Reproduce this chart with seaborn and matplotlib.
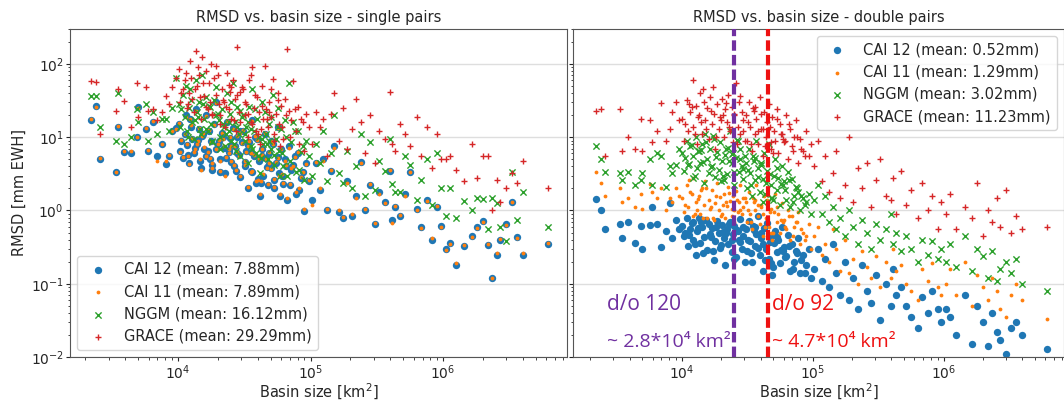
import matplotlib
matplotlib.use("Agg")
import matplotlib.pyplot as plt
import seaborn as sns

# basin sizes [km^2], shared by every series
basin_size = [
    2200, 2400, 2600, 3400, 3500, 3900, 4400, 4900, 5000, 5700, 5900, 6500, 7000, 7600, 8100, 8500, 9000, 9600,
    10100, 10400, 10900, 11200, 11600, 12100, 12300, 12800, 13100, 13600, 13900, 14300, 14900, 15100, 15700,
    16200, 16400, 17100, 17600, 17900, 18700, 19200, 19500, 20300, 20900, 21300, 22200, 22600, 23400, 24100,
    24500, 25300, 26200, 26700, 27600, 28100, 28900, 29500, 30200,
    31000, 31800, 32700, 33500, 34600, 35300, 36400, 37200, 38500, 39300, 40600, 41800, 42700, 44100, 45200,
    46300, 47800, 49000, 50500, 51900, 53400, 54800, 56600, 58100, 60200, 62300, 64500, 66800, 69100, 71500,
    74200, 77000, 80300, 84100, 88600, 93200, 97800,
    103000, 110000, 118000, 125000, 133000, 142000, 151000, 163000, 176000, 190000, 205000, 222000, 240000,
    258000, 280000, 305000, 330000, 365000, 395000, 410000, 430000, 470000, 520000, 560000, 640000, 680000,
    760000, 820000, 900000, 960000,
    1050000, 1120000, 1250000, 1450000, 1650000, 1800000, 2000000, 2200000, 2350000, 2550000, 2700000,
    3000000, 3300000, 3600000, 4000000, 6200000,
    10600, 11900, 12600, 13400, 14600, 15400, 16800, 18200, 19900, 21700, 23000, 25000, 26400, 27900, 29200,
    11400, 14100, 17300, 20600, 24300,
    32200, 34000, 36000, 38000, 40000, 43300, 46900, 50000, 53000, 57300, 61000, 65500, 70300, 76000, 82000,
    87000, 35800, 42000, 48500, 59000,
]

# RMSD [mm EWH] - single pairs
single_cai12 = [
    17, 27, 5.0, 3.3, 14, 6.2, 6.0, 10, 26, 13, 6.4, 16, 5.5, 8.0, 4.3, 5.5, 12, 13.5,
    15, 6.5, 5.2, 11, 7.8, 4.5, 18, 9.5, 6.0, 24, 8.2, 13, 3.8, 10.5, 7.0, 20, 5.5, 12, 8.8, 4.2,
    15, 6.8, 30, 9.0, 5.0, 11.5, 7.2, 3.2, 16, 6.2, 9.8, 4.6, 13.5, 7.5, 3.5, 10, 5.8, 2.9, 8.5,
    12, 4.0, 6.5, 2.0, 8.5, 3.5, 17, 5.5, 2.4, 9.5, 4.8, 1.6, 7.0, 3.0, 11, 5.2, 2.2, 6.0, 3.8, 8.2,
    2.6, 4.5, 14, 3.2, 6.8, 2.3, 5.0, 1.4, 7.5, 3.6, 4.2, 1.7, 6.0, 2.8, 0.98, 4.4, 2.5,
    1.4, 4.5, 1.9, 5.0, 1.0, 3.5, 7.5, 0.95, 0.8, 2.5, 0.85, 1.6, 4.6, 1.0, 2.2, 0.65, 1.8, 1.3,
    3.5, 0.75, 1.1, 0.85, 1.7, 3.4, 1.05, 0.6, 1.4, 0.4, 1.1, 0.62,
    0.3, 0.36, 0.18, 0.33, 0.45, 0.6, 0.72, 0.34, 0.12, 0.25, 0.4, 0.65, 1.3, 0.43, 0.25, 0.35,
    9.0, 5.8, 14, 7.2, 4.8, 11, 6.5, 3.6, 8.0, 10, 5.2, 7.8, 4.0, 6.0, 12, 20, 9.2, 5.0, 3.4, 6.6,
    4.6, 7.8, 3.3, 10, 2.7, 5.6, 3.9, 8.8, 2.0, 5.4, 3.0, 4.0, 2.2, 5.5, 1.9, 3.3, 6.2, 2.4, 4.3, 1.6,
]
single_cai11 = [
    17.5, 26, 5.2, 3.4, 14.2, 6.5, 6.4, 10, 25, 13.5, 6.6, 16.5, 4.8, 8.2, 4.8, 5.8, 12, 13,
    15.5, 6.3, 5.4, 11, 8.0, 4.3, 17.5, 9.8, 6.2, 23, 8.0, 13.5, 3.6, 10.5, 7.3, 19.5, 5.6, 12.5, 8.5, 4.4,
    14.5, 7.0, 29, 9.2, 4.8, 11.5, 7.5, 3.0, 16.5, 6.0, 10, 4.8, 13, 7.7, 3.6, 10.5, 5.6, 3.0, 8.3,
    12.5, 4.2, 6.3, 2.1, 8.8, 3.4, 16.5, 5.7, 2.5, 9.2, 5.0, 1.7, 6.8, 3.1, 11.5, 5.0, 2.3, 6.2, 3.7, 8.0,
    2.7, 4.6, 13.5, 3.0, 7.0, 2.4, 4.8, 1.5, 7.2, 3.8, 4.0, 1.8, 6.2, 2.9, 1.05, 4.3, 2.6,
    1.2, 4.6, 2.0, 4.8, 1.05, 3.6, 7.2, 1.0, 0.82, 2.4, 0.9, 1.5, 4.4, 1.05, 2.3, 0.68, 1.7, 1.25,
    3.6, 0.68, 1.15, 0.88, 1.6, 3.3, 1.0, 0.58, 1.35, 0.42, 1.15, 0.6,
    0.29, 0.35, 0.19, 0.34, 0.44, 0.58, 0.7, 0.35, 0.12, 0.26, 0.41, 0.63, 1.3, 0.42, 0.26, 0.36,
    9.2, 5.6, 14.5, 7.0, 5.0, 11.5, 6.3, 3.8, 8.2, 9.6, 5.4, 7.5, 4.2, 6.2, 11.5, 19, 9.0, 5.2, 3.5, 6.8,
    4.8, 7.6, 3.5, 10.5, 2.6, 5.8, 3.8, 9.0, 2.1, 5.2, 3.1, 4.2, 2.3, 5.3, 2.0, 3.4, 6.0, 2.5, 4.5, 1.7,
]
single_nggm = [
    36, 36, 14, 9.0, 40, 8.2, 10, 24, 16, 28, 9.0, 22, 11, 18, 18, 12, 25, 65,
    28, 14, 38, 19, 12, 25, 45, 16, 9.5, 60, 22, 30, 11, 70, 18, 35, 13, 27, 15, 8.5,
    32, 20, 48, 17, 10, 24, 14, 7.5, 40, 12, 21, 9.0, 55, 16, 6.5, 26, 11, 5.5, 19,
    20, 9.0, 14, 4.5, 26, 7.5, 45, 12, 6.0, 18, 10, 3.2, 30, 8.0, 22, 11, 5.0, 15, 7.0, 38,
    5.8, 9.5, 25, 6.5, 13, 4.0, 17, 3.0, 55, 8.5, 16, 3.4, 12, 6.2, 2.6, 9.0, 5.5,
    3.0, 8.0, 4.5, 12, 2.5, 6.0, 20, 3.2, 2.4, 6.5, 2.0, 4.0, 11, 1.6, 8.5, 1.9, 4.8, 3.5,
    9.5, 2.3, 1.8, 1.8, 5.5, 4.2, 1.4, 2.6, 5.0, 1.2, 6.0, 2.0,
    0.85, 2.0, 0.8, 1.35, 1.0, 1.5, 1.45, 0.55, 1.5, 1.25, 0.6, 0.38, 3.3, 0.75, 1.8, 0.6,
    24, 10, 32, 17, 13, 28, 12, 9.0, 21, 15, 11, 30, 8.0, 14, 23, 50, 19, 26, 7.0, 16,
    11, 16, 7.0, 24, 5.5, 9.5, 8.0, 19, 4.2, 14, 6.0, 10, 4.8, 12, 3.6, 7.5, 13, 5.2, 9.0, 3.0,
]
single_grace = [
    58, 56, 11, 23, 45, 31, 14, 55, 19, 48, 23, 24, 17, 22, 36, 28, 48, 65,
    85, 30, 45, 60, 25, 40, 110, 33, 22, 150, 50, 70, 18, 125, 36, 80, 26, 55, 100, 20,
    65, 38, 95, 28, 15, 45, 30, 14, 75, 24, 42, 18, 60, 33, 12, 170, 22, 16, 48,
    45, 20, 28, 10, 60, 16, 90, 25, 12, 35, 22, 8.0, 50, 18, 95, 24, 14, 30, 19, 62,
    11, 21, 40, 15, 27, 9.5, 33, 160, 23, 17, 58, 12, 26, 18, 6.5, 21, 14,
    8.0, 22, 14, 18, 5.5, 21, 40, 9.0, 25, 7.0, 13, 33, 16, 6.0, 20, 4.5, 12, 9.5,
    42, 8.0, 6.5, 15, 11, 7.5, 19, 5.5, 14, 3.8, 11, 5.0,
    5.0, 5.5, 3.6, 2.5, 8.0, 2.8, 5.5, 5.5, 1.0, 2.6, 1.3, 2.0, 3.2, 2.4, 4.8, 2.0,
    40, 28, 65, 45, 35, 55, 24, 21, 70, 32, 26, 48, 17, 38, 42, 75, 90, 30, 20, 52,
    30, 21, 15, 38, 11, 27, 18, 45, 9.0, 32, 14, 20, 10, 24, 8.0, 16, 70, 13, 22, 7.5,
]

# RMSD [mm EWH] - double pairs
double_cai12 = [
    1.45, 1.0, 0.55, 0.65, 0.42, 0.70, 0.36, 0.62, 0.30, 0.63, 1.1, 0.66, 0.32, 0.52, 1.25, 0.42, 0.75, 0.55,
    0.62, 0.45, 0.78, 0.33, 0.55, 0.40, 0.70, 0.25, 0.52, 0.80, 0.36, 0.60, 0.44, 0.75, 0.29, 0.66, 0.48,
    0.58, 0.21, 0.38, 0.72, 0.50, 0.31, 0.64, 0.42, 0.18, 0.56, 0.35, 0.70, 0.27, 0.47, 0.62, 0.23, 0.53,
    0.40, 0.76, 0.30, 0.45, 0.20,
    0.55, 0.28, 0.72, 0.38, 0.20, 0.62, 0.33, 0.48, 0.85, 0.25, 0.42, 0.15, 0.58, 0.30, 0.68, 0.22, 0.45,
    0.13, 0.36, 0.52, 0.27, 0.40, 0.19, 0.60, 0.32, 0.24, 0.46, 0.15, 0.35, 0.20, 0.28, 0.42, 0.14, 0.25,
    0.18, 0.30, 0.12,
    0.16, 0.30, 0.11, 0.22, 0.09, 0.35, 0.14, 0.07, 0.20, 0.06, 0.12, 0.045, 0.18, 0.08, 0.055, 0.13,
    0.032, 0.10, 0.05, 0.16, 0.07, 0.09, 0.05, 0.035, 0.025, 0.065, 0.04, 0.08, 0.045, 0.03,
    0.045, 0.035, 0.02, 0.07, 0.015, 0.05, 0.03, 0.014, 0.04, 0.022, 0.017, 0.011, 0.025, 0.03, 0.02, 0.013,
    0.50, 0.68, 0.35, 0.57, 0.26, 0.73, 0.43, 0.60, 0.34, 0.49, 0.65, 0.22, 0.54, 0.37, 0.59, 0.46, 0.69,
    0.28, 0.51, 0.39,
    0.40, 0.26, 0.60, 0.31, 0.50, 0.21, 0.37, 0.17, 0.44, 0.29, 0.23, 0.33, 0.16, 0.26, 0.21, 0.14, 0.54,
    0.35, 0.19, 0.28,
]
double_cai11 = [
    3.3, 2.4, 1.6, 2.0, 1.3, 1.5, 1.1, 1.7, 1.05, 2.3, 1.8, 1.5, 2.0, 1.0, 1.5, 1.3, 2.0, 1.6,
    1.5, 0.95, 2.2, 1.1, 1.8, 0.85, 2.8, 1.3, 1.0, 1.6, 0.9, 2.0, 1.2, 2.5, 0.8, 1.4, 1.05, 1.9, 0.75, 1.25,
    2.4, 1.0, 1.55, 0.9, 1.7, 0.8, 1.15, 2.1, 1.35, 0.85, 1.6, 1.0, 1.85, 0.95, 1.3, 2.2, 0.9, 1.1, 1.5,
    1.3, 0.7, 1.8, 0.9, 0.55, 1.5, 1.0, 2.2, 1.2, 0.65, 1.1, 0.45, 1.6, 0.8, 1.4, 0.6, 1.05, 0.4, 0.95, 1.7,
    0.7, 0.9, 0.5, 1.25, 0.75, 0.55, 1.0, 0.4, 0.85, 0.6, 0.7, 0.95, 0.35, 0.5, 0.45, 0.65, 0.3,
    0.45, 0.6, 0.25, 0.35, 0.2, 0.55, 0.3, 0.15, 0.4, 0.14, 0.22, 0.1, 0.28, 0.17, 0.12, 0.24, 0.09, 0.2,
    0.12, 0.3, 0.15, 0.18, 0.1, 0.08, 0.06, 0.16, 0.11, 0.19, 0.09, 0.07,
    0.1, 0.16, 0.07, 0.2, 0.05, 0.13, 0.09, 0.06, 0.12, 0.08, 0.045, 0.035, 0.07, 0.1, 0.06, 0.033,
    1.2, 1.7, 0.9, 1.45, 0.8, 2.0, 1.1, 1.6, 0.85, 1.3, 1.75, 0.7, 1.4, 1.0, 1.5, 2.6, 1.9, 0.8, 1.2, 1.05,
    1.0, 0.7, 1.4, 0.85, 1.2, 0.6, 0.95, 0.5, 1.1, 0.75, 0.6, 0.85, 0.45, 0.7, 0.55, 0.4, 1.3, 0.9, 0.5, 0.7,
]
double_nggm = [
    7.5, 5.0, 3.3, 3.2, 2.6, 3.4, 2.2, 2.6, 3.2, 5.0, 2.2, 6.0, 5.5, 2.1, 4.0, 3.2, 4.2, 6.8,
    6.0, 3.5, 9.0, 4.2, 7.5, 2.8, 5.5, 10, 3.8, 6.5, 4.5, 8.0, 2.4, 11, 5.0, 3.2, 7.0, 4.0, 9.5, 2.9,
    6.2, 3.6, 8.5, 4.8, 2.6, 5.8, 3.1, 7.2, 12, 4.4, 6.0, 2.2, 5.2, 8.8, 3.4, 6.8, 4.0, 2.7, 5.6,
    4.5, 2.0, 7.0, 3.2, 1.6, 5.5, 2.6, 9.0, 3.8, 1.8, 4.2, 1.3, 6.0, 2.4, 3.5, 8.0, 2.2, 1.5, 3.0, 5.0,
    1.9, 2.8, 1.2, 4.0, 2.5, 1.4, 3.3, 1.1, 2.7, 1.6, 2.1, 1.8, 1.0, 1.5, 1.3, 1.7, 0.9,
    1.4, 2.2, 0.9, 1.6, 0.7, 1.1, 0.55, 0.8, 0.45, 1.0, 0.6, 0.35, 0.75, 0.5, 0.3, 0.65, 0.4, 0.55,
    0.9, 0.35, 0.5, 0.28, 0.45, 0.3, 0.2, 0.4, 0.25, 0.38, 0.22, 0.3,
    0.2, 0.35, 0.17, 0.45, 0.15, 0.3, 0.24, 0.12, 0.28, 0.11, 0.16, 0.2, 0.14, 0.22, 0.1, 0.08,
    5.2, 7.8, 3.0, 6.4, 4.6, 8.5, 3.9, 5.4, 2.5, 7.0, 4.7, 3.3, 9.2, 5.0, 3.7, 4.3, 6.6, 10.5, 3.0, 5.9,
    3.6, 2.2, 5.2, 2.9, 4.4, 1.7, 3.1, 1.4, 3.8, 2.3, 1.9, 2.6, 1.3, 2.0, 1.6, 1.2, 4.8, 2.7, 1.5, 2.2,
]
double_grace = [
    23, 24, 5.5, 24, 6.5, 10, 7.0, 18, 6.5, 17, 8.5, 12, 29, 9.0, 13, 22, 30, 17,
    18, 9.0, 32, 12, 22, 60, 14, 27, 8.0, 20, 40, 11, 30, 17, 25, 9.5, 35, 15, 21, 7.0,
    28, 13, 19, 33, 10, 24, 16, 38, 12, 26, 8.5, 20, 55, 14, 30, 11, 22, 17, 9.0,
    20, 9.0, 30, 14, 6.5, 25, 11, 18, 8.0, 35, 13, 5.5, 22, 10, 16, 28, 7.0, 19, 12, 9.0,
    24, 6.0, 15, 11, 8.5, 20, 5.0, 13, 7.5, 10, 17, 4.5, 9.5, 6.5, 12, 5.5, 8.0,
    4.0, 9.0, 2.5, 5.5, 1.8, 3.2, 6.5, 1.5, 2.2, 10, 1.3, 3.8, 2.0, 4.5, 1.1, 2.6, 5.0, 1.6,
    1.4, 2.8, 0.9, 3.5, 1.2, 1.9, 0.8, 2.4, 1.0, 1.6, 0.55, 1.3,
    0.9, 1.7, 0.55, 1.1, 0.8, 2.4, 0.45, 1.0, 0.7, 1.5, 0.6, 1.9, 0.5, 0.85, 0.55, 0.6,
    15, 26, 11, 19, 45, 13, 23, 10, 17, 29, 14, 21, 8.0, 36, 12, 28, 16, 48, 20, 13,
    16, 8.0, 26, 12, 21, 7.5, 14, 6.0, 18, 11, 9.0, 15, 6.5, 10, 7.0, 5.5, 23, 13, 8.5, 9.5,
]

model_names = ["CAI 12", "CAI 11", "NGGM", "GRACE"]
single_means = ["7.88", "7.89", "16.12", "29.29"]
double_means = ["0.52", "1.29", "3.02", "11.23"]
cutoff_sizes = [2.5e4, 4.6e4]  # d/o 120, d/o 92

# marker, colour, size, linewidth
styles = [
    ("o", "#1f77b4", 28, 0),
    (".", "#ff7f0e", 30, 0),
    ("x", "#2ca02c", 20, 1.0),
    ("+", "#d62728", 24, 1.0),
]

sns.set_style("ticks")
plt.rcParams["font.family"] = ["DejaVu Sans"]

fig = plt.figure(figsize=(10.64, 4.0), dpi=100)
ax1 = fig.add_axes([70 / 1064, 43 / 400, 497 / 1064, 328 / 400])
ax2 = fig.add_axes([573 / 1064, 43 / 400, 491 / 1064, 328 / 400], sharey=ax1)

panels = [
    (ax1, [single_cai12, single_cai11, single_nggm, single_grace], single_means,
     "RMSD vs. basin size - single pairs", (10 ** 3.185, 10 ** 6.935)),
    (ax2, [double_cai12, double_cai11, double_nggm, double_grace], double_means,
     "RMSD vs. basin size - double pairs", (10 ** 3.17, 10 ** 6.92)),
]

for ax, series, means, title, xlim in panels:
    for vals, name, mean, (m, c, s, lw) in zip(series, model_names, means, styles):
        sns.scatterplot(x=basin_size, y=vals, ax=ax, marker=m, color=c, s=s,
                        linewidth=lw, label=f"{name} (mean: {mean}mm)")
    ax.set_xscale("log")
    ax.set_yscale("log")
    ax.set_xlim(*xlim)
    ax.set_ylim(1e-2, 3e2)
    ax.yaxis.grid(True, which="major", color="#dedede", lw=1)
    ax.set_axisbelow(True)
    ax.set_title(title, fontsize=10.5, pad=5)
    ax.set_xlabel("Basin size [km$^2$]", fontsize=10.5, labelpad=0)
    ax.tick_params(which="major", labelsize=10, length=3, pad=1.5)
    ax.tick_params(which="minor", length=1.8)
    for sp in ax.spines.values():
        sp.set_color("#555555")

ax1.set_ylabel("RMSD [mm EWH]", fontsize=10.5, labelpad=3)
ax2.tick_params(labelleft=False)
ax1.legend(loc="lower left", fontsize=10.5)
ax2.legend(loc="upper right", fontsize=10.5)

# spatial resolution markers
purple, red = "#7030A0", "#EE1111"
for xv, col in zip(cutoff_sizes, [purple, red]):
    ax2.axvline(xv, color=col, lw=3, ls=(0, (2.5, 1)), zorder=4)
txt_font = ["Open Sans", "DejaVu Sans"]
ax2.text(0.069, 0.161, "d/o 120", transform=ax2.transAxes, color=purple,
         fontsize=15, family=txt_font, va="center")
ax2.text(0.069, 0.046, "~ 2.8*10\u2074 km\u00b2", transform=ax2.transAxes, color=purple,
         fontsize=14, family=txt_font, va="center")
ax2.text(0.405, 0.161, "d/o 92", transform=ax2.transAxes, color=red,
         fontsize=15, family=txt_font, va="center")
ax2.text(0.405, 0.046, "~ 4.7*10\u2074 km\u00b2", transform=ax2.transAxes, color=red,
         fontsize=14, family=txt_font, va="center")

fig.savefig("out.png", dpi=100)
